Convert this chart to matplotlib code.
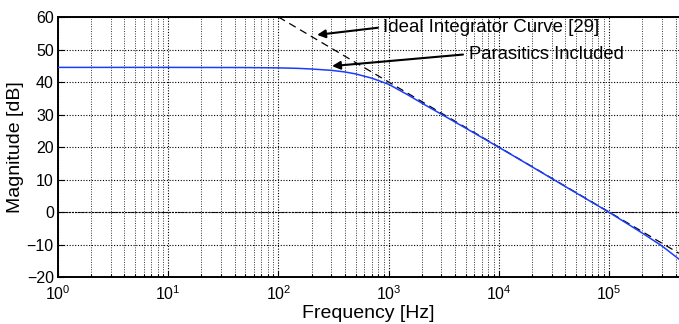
import numpy as np
import matplotlib
matplotlib.use("Agg")
import matplotlib.pyplot as plt

# values
freq_blue = [1, 10, 50, 100, 150, 200, 300, 400, 500, 700, 1000, 1500,
             2000, 3000, 5000, 1e4, 2e4, 5e4, 1e5, 2e5, 3e5, 4.3e5]
mag_blue = [44.5, 44.5, 44.45, 44.35, 44.2, 44.0, 43.6, 43.1, 42.5, 41.2,
            39.3, 36.0, 33.5, 30.1, 25.8, 19.9, 13.9, 5.9, -0.1, -6.5,
            -10.4, -14.5]
freq_ideal = [100, 4.3e5]
mag_ideal = [60, -12.7]

label_ideal = "Ideal Integrator Curve [29]"
label_para = "Parasitics Included"

plt.rcParams['font.family'] = ['Liberation Sans', 'DejaVu Sans']
plt.rcParams['mathtext.fontset'] = 'custom'
plt.rcParams['mathtext.rm'] = 'Liberation Sans'
plt.rcParams['mathtext.it'] = 'Liberation Sans'

fig = plt.figure(figsize=(6.79, 3.24), dpi=100)
ax = fig.add_axes([0.0854, 0.145, 0.9146, 0.8025])

ax.plot(freq_ideal, mag_ideal, color='black', lw=0.9, ls=(0, (6, 4)), zorder=3)
ax.plot(freq_blue, mag_blue, color='#1a3cff', lw=1.1, zorder=4)

ax.set_xscale('log')
ax.set_xlim(1, 4.3e5)
ax.set_ylim(-20, 60)
ax.set_yticks(np.arange(-20, 61, 10))

ax.grid(True, which='major', color='black', ls=(0, (1, 1.5)), lw=0.8)
ax.grid(True, which='minor', axis='x', color='#333333', ls=(0, (1, 1.5)), lw=0.7)
ax.axhline(0, color='black', ls=(0, (2, 1)), lw=0.8, zorder=2)

ax.tick_params(which='both', direction='in', labelsize=11.5, width=0.8, pad=3)
ax.tick_params(axis='x', pad=5)
ax.tick_params(which='major', length=4)
ax.tick_params(which='minor', length=2)
for side in ['left', 'bottom', 'top']:
    ax.spines[side].set_linewidth(1.4)
ax.spines['right'].set_visible(False)

ax.set_xlabel("Frequency [Hz]", fontsize=14, labelpad=2)
ax.set_ylabel("Magnitude [dB]", fontsize=14, labelpad=2)

arrow = dict(arrowstyle='-|>', color='black', lw=1.5, mutation_scale=12,
             relpos=(0, 0.5), shrinkA=2, shrinkB=0)
ax.annotate(label_ideal, xy=(224, 54.5), xytext=(895, 56.9),
            fontsize=13.4, ha='left', va='center', arrowprops=arrow)
ax.annotate(label_para, xy=(306, 44.9), xytext=(5300, 48.6),
            fontsize=13.3, ha='left', va='center', arrowprops=arrow)

fig.savefig("out.png", dpi=100)
